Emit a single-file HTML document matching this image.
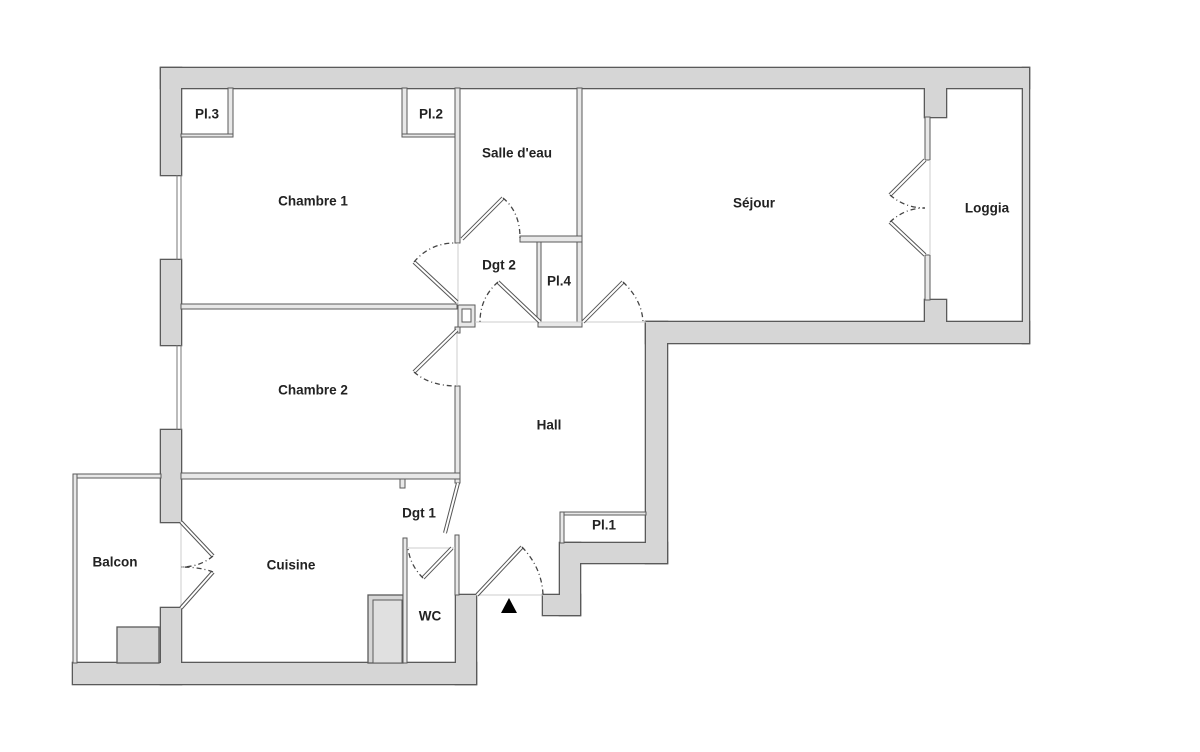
<!DOCTYPE html>
<html><head><meta charset="utf-8"><style>
html,body{margin:0;padding:0;background:#fff;}
svg{display:block}
text{font-family:"Liberation Sans",Arial,sans-serif;font-weight:bold;font-size:13.5px;fill:#222;text-anchor:middle;dominant-baseline:middle}
</style></head><body>
<svg width="1200" height="752" viewBox="0 0 1200 752" xmlns="http://www.w3.org/2000/svg">
<defs>
<g id="walls">
  <rect x="161" y="68" width="868" height="20"/>
  <rect x="161" y="68" width="20" height="107"/>
  <rect x="161" y="260" width="20" height="85"/>
  <rect x="161" y="430" width="20" height="92"/>
  <rect x="161" y="608" width="20" height="76"/>
  <rect x="73" y="663" width="403" height="21"/>
  <rect x="456" y="595" width="20" height="89"/>
  <rect x="646" y="322" width="21" height="241"/>
  <rect x="646" y="322" width="383" height="21"/>
  <rect x="1023" y="68" width="6" height="275"/>
  <rect x="563" y="543" width="104" height="20"/>
  <rect x="560" y="543" width="20" height="72"/>
  <rect x="543" y="595" width="37" height="20"/>
  <rect x="925" y="88" width="21" height="29"/>
  <rect x="925" y="300" width="21" height="22"/>
</g>
<g id="leaves">
  <line x1="462" y1="239" x2="503" y2="198"/>
  <line x1="457" y1="302" x2="414" y2="262"/>
  <line x1="540" y1="322" x2="498" y2="282"/>
  <line x1="583" y1="322" x2="623" y2="282"/>
  <line x1="457" y1="330" x2="414" y2="372"/>
  <line x1="925" y1="160" x2="890" y2="195"/>
  <line x1="925" y1="255" x2="890" y2="222"/>
  <line x1="458" y1="483" x2="445" y2="533"/>
  <line x1="452" y1="548" x2="423" y2="578"/>
  <line x1="477" y1="595" x2="522" y2="547"/>
  <line x1="181" y1="522" x2="213" y2="556"/>
  <line x1="181" y1="608" x2="213" y2="572"/>
</g>
</defs>
<use href="#walls" fill="#d6d6d6" stroke="#5a5a5a" stroke-width="2.6"/>
<use href="#walls" fill="#d6d6d6" stroke="none"/>
<g fill="#d6d6d6" stroke="#5a5a5a" stroke-width="1.3">
  <rect x="368" y="595" width="35" height="68"/>
  <rect x="117" y="627" width="42" height="36"/>
</g>
<rect x="373" y="600" width="29" height="63" fill="#e0e0e0" stroke="#5a5a5a" stroke-width="1"/>
<g fill="#e8e8e8" stroke="#5a5a5a" stroke-width="1">
  <rect x="228" y="88" width="5" height="49"/>
  <rect x="181" y="134" width="52" height="3"/>
  <rect x="402" y="88" width="5" height="49"/>
  <rect x="402" y="134" width="53" height="3"/>
  <rect x="455" y="88" width="5" height="155"/>
  <rect x="577" y="88" width="5" height="239"/>
  <rect x="520" y="236" width="62" height="6"/>
  <rect x="537" y="242" width="4" height="80"/>
  <rect x="538" y="322" width="44" height="5"/>
  <rect x="181" y="304" width="276" height="5"/>
  <rect x="455" y="327" width="5" height="6"/>
  <rect x="455" y="386" width="5" height="97"/>
  <rect x="181" y="473" width="279" height="6"/>
  <rect x="400" y="479" width="5" height="9"/>
  <rect x="403" y="538" width="4" height="125"/>
  <rect x="455" y="535" width="4" height="60"/>
  <rect x="73" y="474" width="88" height="4"/>
  <rect x="73" y="474" width="4" height="189"/>
  <rect x="560" y="512" width="4" height="31"/>
  <rect x="564" y="512" width="82" height="3"/>
  <rect x="458" y="305" width="17" height="22"/>
  <rect x="925" y="117" width="5" height="43"/>
  <rect x="925" y="255" width="5" height="45"/>
</g>
<rect x="462" y="309" width="9" height="13" fill="#fff" stroke="#5a5a5a" stroke-width="1"/>
<g stroke="#777" stroke-width="1">
  <line x1="177" y1="175" x2="177" y2="260"/><line x1="181" y1="175" x2="181" y2="260"/>
  <line x1="177" y1="345" x2="177" y2="430"/><line x1="181" y1="345" x2="181" y2="430"/>
</g>
<g stroke="#ccc" stroke-width="1">
  <line x1="476" y1="595" x2="543" y2="595"/>
  <line x1="407" y1="548" x2="455" y2="548"/>
  <line x1="458" y1="243" x2="458" y2="305"/>
  <line x1="475" y1="322" x2="646" y2="322"/>
  <line x1="181" y1="522" x2="181" y2="608"/>
  <line x1="930" y1="160" x2="930" y2="255"/>
  <line x1="457" y1="333" x2="457" y2="386"/>
</g>
<use href="#leaves" stroke="#555" stroke-width="4"/>
<use href="#leaves" stroke="#fff" stroke-width="2"/>
<g fill="none" stroke="#444" stroke-width="1.3" stroke-dasharray="5,3,1,3">
  <path d="M503 198 Q520 212 520 238"/>
  <path d="M414 262 Q430 243 455 243"/>
  <path d="M498 282 Q480 298 480 322"/>
  <path d="M623 282 Q642 300 643 322"/>
  <path d="M414 372 Q430 386 457 386"/>
  <path d="M890 195 Q905 208 925 208"/>
  <path d="M890 222 Q905 208 925 208"/>
  <path d="M423 578 Q410 565 408 548"/>
  <path d="M522 547 Q542 568 543 595"/>
  <path d="M213 556 Q200 567 181 567"/>
  <path d="M213 572 Q200 567 181 567"/>
</g>
<polygon points="509,598 501,613 517,613" fill="#000"/>
<text x="207" y="115">Pl.3</text>
<text x="431" y="115">Pl.2</text>
<text x="517" y="154">Salle d'eau</text>
<text x="313" y="202">Chambre 1</text>
<text x="499" y="266">Dgt 2</text>
<text x="559" y="282">Pl.4</text>
<text x="754" y="204">Séjour</text>
<text x="987" y="209">Loggia</text>
<text x="313" y="391">Chambre 2</text>
<text x="549" y="426">Hall</text>
<text x="419" y="514">Dgt 1</text>
<text x="604" y="526">Pl.1</text>
<text x="115" y="563">Balcon</text>
<text x="291" y="566">Cuisine</text>
<text x="430" y="617">WC</text>
</svg>
</body></html>
